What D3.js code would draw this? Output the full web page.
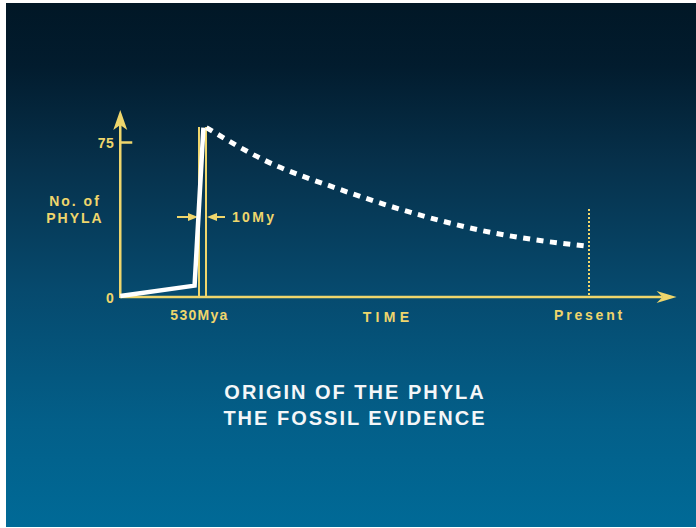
<!DOCTYPE html>
<html><head><meta charset="utf-8">
<script src="https://cdn.jsdelivr.net/npm/d3@7"></script>
<style>body{margin:0;background:#fff}svg{display:block}</style>
</head><body>
<script>
// ---- data ----
const riseTime = [637, 536, 524];          // Mya
const riseValue = [0.5, 5.5, 82];          // number of phyla
const declineTime = [520, 443, 338, 223, 144, 60, 0];
const declineValue = [82, 66.5, 52, 39, 32, 27, 24.5];
const yTicks = [0, 75];
const xTickTimes = [530, 0];
const xTickLabels = ["530Mya", "Present"];
const burstStart = 530, burstEnd = 520.5;
const yLabel = ["No. of", "PHYLA"];
const xLabel = "TIME";
const titleLines = ["ORIGIN OF THE PHYLA", "THE FOSSIL EVIDENCE"];

const W = 696, H = 528;
const YEL = "#efd66c";
const svg = d3.select("body").append("svg").attr("width", W).attr("height", H);

const defs = svg.append("defs");
const g = defs.append("linearGradient").attr("id", "bg").attr("x1", 0).attr("y1", 0).attr("x2", 0).attr("y2", 1);
[[0, "#011726"], [0.12, "#021c2e"], [0.3, "#06304a"], [0.55, "#064a6e"], [0.8, "#035f89"], [1, "#006a97"]]
  .forEach(([o, c]) => g.append("stop").attr("offset", o).attr("stop-color", c));
svg.append("rect").attr("x", 6).attr("y", 3).attr("width", W - 6).attr("height", H - 4).attr("fill", "url(#bg)");

const x = d3.scaleLinear().domain([530, 0]).range([199, 589]);
const y = d3.scaleLinear().domain([0, 75]).range([297, 142]);
const x0 = x(637), x1 = x(-100);

const font = "'Liberation Sans', Arial, Helvetica, sans-serif";

// axes lines
svg.append("line").attr("x1", x0).attr("x2", x1).attr("y1", y(0)).attr("y2", y(0))
  .attr("stroke", YEL).attr("stroke-width", 2.5);
svg.append("line").attr("x1", x0).attr("x2", x0).attr("y1", y(0) + 1).attr("y2", 124)
  .attr("stroke", YEL).attr("stroke-width", 2.5);
// arrowheads
svg.append("path").attr("d", `M${x0},110 L${x0 + 7},130 L${x0},125 L${x0 - 7},130 Z`).attr("fill", YEL);
svg.append("path").attr("d", `M${x1 + 14},${y(0)} L${x1 - 6},${y(0) - 6} L${x1},${y(0)} L${x1 - 6},${y(0) + 6} Z`).attr("fill", YEL);

// y axis ticks/labels
const ya = svg.append("g").attr("transform", `translate(${x0},0)`)
  .call(d3.axisLeft(y).tickValues(yTicks).tickSize(-12).tickPadding(6).tickFormat(d3.format("d")));
ya.select(".domain").remove();
ya.selectAll(".tick line").attr("stroke", YEL).attr("stroke-width", 2.5).attr("opacity", d => d === 0 ? 0 : 1);
ya.selectAll(".tick text").attr("fill", YEL).attr("font-family", font).attr("font-weight", "bold")
  .attr("font-size", 14).attr("letter-spacing", 0.5).attr("dy", "0.4em");

// x axis labels
const xa = svg.append("g").attr("transform", `translate(0,${y(0)})`)
  .call(d3.axisBottom(x).tickValues(xTickTimes).tickSize(0).tickPadding(13)
    .tickFormat((d, i) => xTickLabels[i]));
xa.select(".domain").remove();
xa.selectAll(".tick text").attr("fill", YEL).attr("font-family", font).attr("font-weight", "bold")
  .attr("font-size", 14).attr("letter-spacing", (d, i) => i === 0 ? 1.3 : 2.8);

svg.append("text").attr("x", 388).attr("y", 322).attr("text-anchor", "middle").attr("fill", YEL)
  .attr("font-family", font).attr("font-weight", "bold").attr("font-size", 14).attr("letter-spacing", 4.3)
  .text(xLabel);

svg.append("text").attr("x", 75).attr("text-anchor", "middle").attr("fill", YEL)
  .attr("font-family", font).attr("font-weight", "bold").attr("font-size", 14).attr("letter-spacing", 2)
  .selectAll("tspan").data(yLabel).join("tspan").attr("x", 75).attr("y", (d, i) => 206 + i * 17).text(d => d);

// burst bracket lines
[burstStart, burstEnd].forEach(t => {
  svg.append("line").attr("x1", x(t)).attr("x2", x(t)).attr("y1", 127).attr("y2", y(0))
    .attr("stroke", YEL).attr("stroke-width", 2);
});

// 10My arrows
const ay = 217;
svg.append("line").attr("x1", 177).attr("x2", x(burstStart) - 4).attr("y1", ay).attr("y2", ay).attr("stroke", YEL).attr("stroke-width", 2);
svg.append("path").attr("d", `M${x(burstStart) - 1},${ay} L${x(burstStart) - 11},${ay - 4} L${x(burstStart) - 11},${ay + 4} Z`).attr("fill", YEL);
svg.append("line").attr("x1", x(burstEnd) + 4).attr("x2", 225).attr("y1", ay).attr("y2", ay).attr("stroke", YEL).attr("stroke-width", 2);
svg.append("path").attr("d", `M${x(burstEnd) + 1},${ay} L${x(burstEnd) + 11},${ay - 4} L${x(burstEnd) + 11},${ay + 4} Z`).attr("fill", YEL);
svg.append("text").attr("x", 232).attr("y", 222).attr("fill", YEL)
  .attr("font-family", font).attr("font-weight", "bold").attr("font-size", 14).attr("letter-spacing", 2.3)
  .text("10My");

// Present dotted line
svg.append("line").attr("x1", x(0)).attr("x2", x(0)).attr("y1", 209).attr("y2", y(0))
  .attr("stroke", YEL).attr("stroke-width", 2).attr("stroke-dasharray", "2,2");

// data lines
const rise = riseTime.map((t, i) => [t, riseValue[i]]);
const decline = declineTime.map((t, i) => [t, declineValue[i]]);
svg.append("path").datum(rise)
  .attr("d", d3.line().x(d => x(d[0])).y(d => y(d[1])))
  .attr("fill", "none").attr("stroke", "#ffffff").attr("stroke-width", 4.5).attr("stroke-linejoin", "miter");
svg.append("path").datum(decline)
  .attr("d", d3.line().curve(d3.curveMonotoneX).x(d => x(d[0])).y(d => y(d[1])))
  .attr("fill", "none").attr("stroke", "#ffffff").attr("stroke-width", 5).attr("stroke-dasharray", "7,6.5");

// title
svg.append("text").attr("text-anchor", "middle").attr("fill", "#f4f6f8")
  .attr("font-family", font).attr("font-weight", "bold").attr("font-size", 20).attr("letter-spacing", 2)
  .selectAll("tspan").data(titleLines).join("tspan").attr("x", 355).attr("y", (d, i) => 399 + i * 26).text(d => d);
</script>
</body></html>
